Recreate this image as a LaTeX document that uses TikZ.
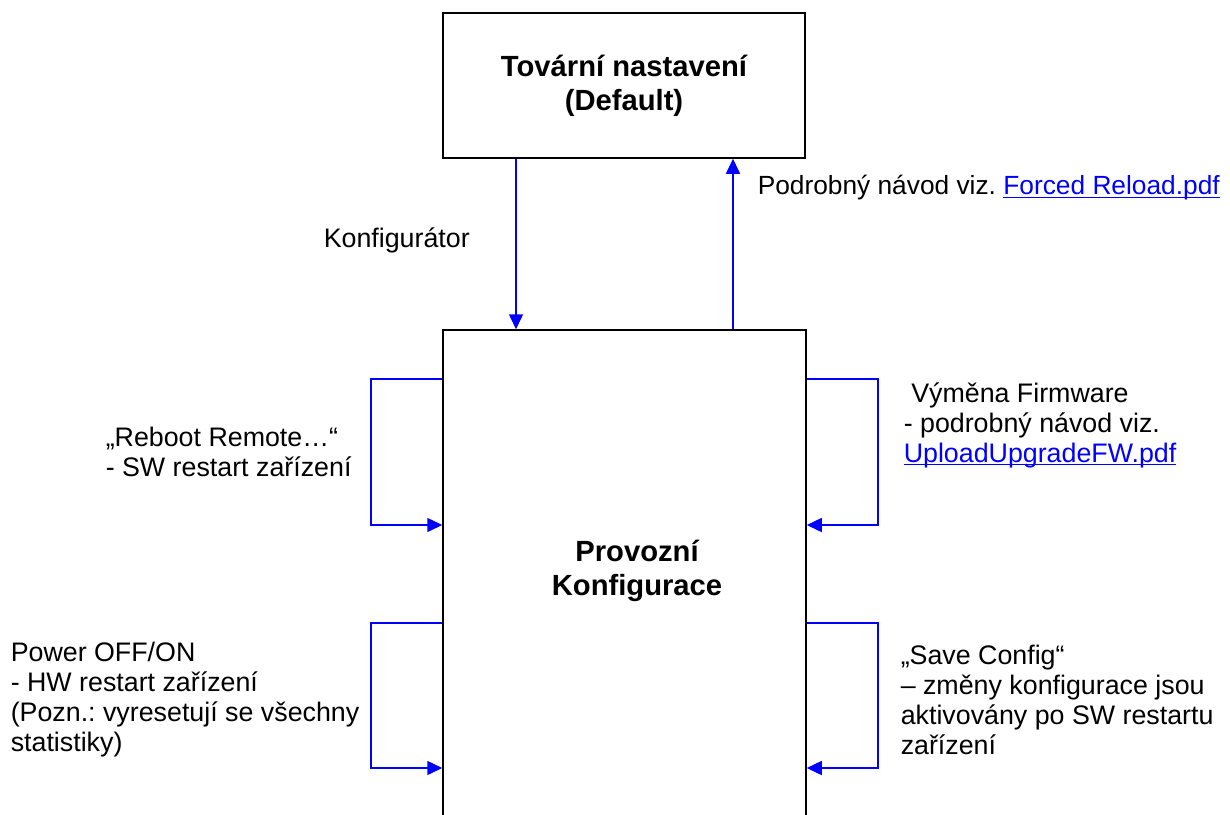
\documentclass[tikz,border=0pt]{standalone}
\usepackage{fontspec}
\setmainfont{Liberation Sans}
\usetikzlibrary{arrows.meta}

\definecolor{flowblue}{RGB}{0,0,255}
\newcommand{\pdflink}[1]{\textcolor{flowblue}{\setbox0=\hbox{#1}\rlap{\rule[-1.4pt]{\wd0}{0.55pt}}\box0}}

\tikzset{every picture/.style={line width=0.75pt},
  statebox/.style={draw, inner sep=0pt, align=center, font=\fontsize{14.6}{17}\selectfont\bfseries},
  boldlbl/.style={inner sep=0pt, align=center, font=\fontsize{14.6}{17}\selectfont\bfseries},
  txt/.style={inner sep=0pt, anchor=west, align=left, font=\fontsize{13.4}{15}\selectfont\frenchspacing},
  flow/.style={draw=flowblue, -{Triangle[length=7.5pt,width=7pt]}}}

\begin{document}
\begin{tikzpicture}[x=0.5pt,y=0.5pt,yscale=-1,xscale=1]
		\useasboundingbox (0,0) rectangle (1230,814);

		%Shape: Rectangle
		\node [statebox, minimum width=181pt, minimum height=72.5pt] (deflt) at (624,85.5) {Tovární nastavení\\(Default)};
		%Shape: Rectangle
		\node [statebox, minimum width=181.5pt, minimum height=260pt] (prov) at (624.5,590) {};
		% Text Node
		\node [boldlbl] (provlbl) at (637,571) {Provozní\\Konfigurace};

		%Straight Lines
		\draw [flow] (deflt.south -| 516,0) -- (prov.north -| 516,0);
		\draw [flow] (prov.north -| 733,0) -- (deflt.south -| 733,0);

		%Loops
		\draw [flow] (prov.west |- 0,379) -| (371,525) -- (prov.west |- 0,525);
		\draw [flow] (prov.west |- 0,623) -| (371,768) -- (prov.west |- 0,768);
		\draw [flow] (prov.east |- 0,379) -| (878,525) -- (prov.east |- 0,525);
		\draw [flow] (prov.east |- 0,623) -| (878,768) -- (prov.east |- 0,768);

		% Text Node
		\node [txt] (konf) at (323,240) {Konfigurátor};
		% Text Node
		\node [txt, font=\fontsize{13.15}{15}\selectfont\frenchspacing] (reload) at (757,188) {Podrobný návod viz. \pdflink{Forced Reload.pdf}};
		% Text Node
		\node [txt] (reboot) at (105,452) {„Reboot Remote…“\\- SW restart zařízení};
		% Text Node
		\node [txt] (fwupg) at (903,425) {\hspace*{0.28em}Výměna Firmware\\- podrobný návod viz.\\\pdflink{UploadUpgradeFW.pdf}};
		% Text Node
		\node [txt] (power) at (10,700) {Power OFF/ON\\- HW restart zařízení\\(Pozn.: vyresetují se všechny\\statistiky)};
		% Text Node
		\node [txt] (save) at (900,700) {„Save Config“\\– změny konfigurace jsou\\aktivovány po SW restartu\\zařízení};

	\end{tikzpicture}
\end{document}
